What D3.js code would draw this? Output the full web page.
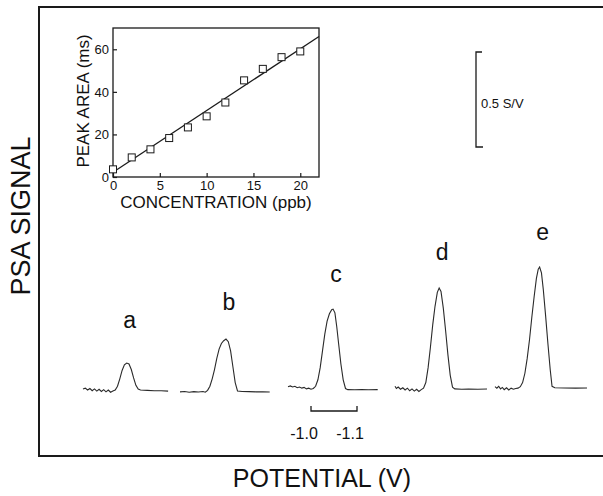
<!DOCTYPE html>
<html>
<head>
<meta charset="utf-8">
<script src="https://cdn.jsdelivr.net/npm/d3@7"></script>
<style>
	body { margin: 0; background: #fff; }
	svg { display: block; }
	text { font-family: "Liberation Sans", Arial, sans-serif; fill: #111; }
</style>
</head>
<body>
<div id="chart"></div>
<script>
// inset: peak area vs concentration
var concentration = [0, 2, 4, 6, 8, 10, 12, 14, 16, 18, 20]
var peakArea = [3.6, 9.2, 13, 18.3, 23.3, 28.5, 35, 45.4, 50.8, 56.3, 59]
var fitLine = [[0, 2.2], [22, 66]]
var insetXTicks = [0, 5, 10, 15, 20]
var insetYTicks = [0, 20, 40, 60]

// PSA traces: [potential (V), signal (S/V)]
var traceNames = ["a", "b", "c", "d", "e"]
var traceA = [[-0.950, 0.005], [-0.955, 0.010], [-0.960, 0.000], [-0.965, 0.008], [-0.970, -0.004], [-0.975, 0.006],
	[-0.980, -0.006], [-0.985, 0.004], [-0.990, -0.008], [-0.995, 0.002], [-1.000, -0.010], [-1.005, 0.000],
	[-1.010, -0.012], [-1.015, -0.006], [-1.020, 0.000], [-1.025, 0.020], [-1.030, 0.060], [-1.035, 0.105],
	[-1.040, 0.135], [-1.045, 0.145], [-1.050, 0.140], [-1.055, 0.110], [-1.060, 0.065], [-1.065, 0.025],
	[-1.070, 0.005], [-1.075, 0.000], [-1.090, -0.002], [-1.105, -0.004], [-1.120, -0.004], [-1.135, -0.006]]
var traceB = [[-0.950, -0.010], [-0.960, -0.008], [-0.970, -0.012], [-0.980, -0.009], [-0.990, -0.011], [-1.000, -0.008],
	[-1.005, -0.012], [-1.010, -0.002], [-1.015, 0.020], [-1.020, 0.060], [-1.025, 0.110], [-1.030, 0.170],
	[-1.035, 0.220], [-1.040, 0.250], [-1.045, 0.265], [-1.050, 0.274], [-1.055, 0.260], [-1.060, 0.210],
	[-1.065, 0.125], [-1.070, 0.040], [-1.075, -0.005], [-1.085, -0.008], [-1.100, -0.009], [-1.115, -0.010],
	[-1.130, -0.010], [-1.145, -0.011]]
var traceC = [[-0.950, 0.018], [-0.955, 0.022], [-0.960, 0.016], [-0.965, 0.020], [-0.970, 0.012], [-0.975, 0.016],
	[-0.980, 0.010], [-0.985, 0.014], [-0.990, 0.006], [-0.995, 0.010], [-1.000, 0.004], [-1.005, 0.008],
	[-1.010, 0.020], [-1.015, 0.055], [-1.020, 0.120], [-1.025, 0.210], [-1.030, 0.300], [-1.035, 0.370],
	[-1.040, 0.410], [-1.045, 0.432], [-1.048, 0.435], [-1.052, 0.415], [-1.056, 0.340], [-1.060, 0.250],
	[-1.065, 0.140], [-1.070, 0.055], [-1.075, 0.008], [-1.080, 0.002], [-1.095, 0.001], [-1.110, 0.002],
	[-1.125, 0.001], [-1.145, 0.002]]
var traceD = [[-0.950, 0.020], [-0.953, 0.008], [-0.957, 0.016], [-0.962, 0.004], [-0.967, 0.012], [-0.972, 0.000],
	[-0.977, 0.010], [-0.982, -0.004], [-0.987, 0.006], [-0.992, -0.006], [-0.997, 0.004], [-1.002, -0.008],
	[-1.007, 0.002], [-1.012, 0.010], [-1.017, 0.040], [-1.022, 0.120], [-1.027, 0.230], [-1.032, 0.350],
	[-1.037, 0.450], [-1.042, 0.525], [-1.046, 0.548], [-1.050, 0.530], [-1.055, 0.440], [-1.060, 0.320],
	[-1.065, 0.190], [-1.070, 0.080], [-1.075, 0.015], [-1.080, 0.006], [-1.095, 0.004], [-1.110, 0.005],
	[-1.130, 0.004], [-1.150, 0.005]]
var traceE = [[-0.950, 0.018], [-0.954, 0.010], [-0.958, 0.020], [-0.962, 0.006], [-0.966, 0.014], [-0.970, 0.002],
	[-0.975, 0.012], [-0.980, 0.000], [-0.985, 0.010], [-0.990, 0.004], [-0.995, 0.008], [-1.000, 0.010],
	[-1.005, 0.018], [-1.010, 0.040], [-1.015, 0.090], [-1.020, 0.170], [-1.025, 0.270], [-1.030, 0.390],
	[-1.035, 0.500], [-1.040, 0.600], [-1.044, 0.650], [-1.047, 0.661], [-1.051, 0.630], [-1.055, 0.540],
	[-1.060, 0.400], [-1.065, 0.250], [-1.070, 0.110], [-1.074, 0.020], [-1.080, 0.012], [-1.100, 0.011],
	[-1.125, 0.010], [-1.150, 0.011]]
var traces = [traceA, traceB, traceC, traceD, traceE]
var potentialBar = [-1.0, -1.1]
var signalBar = 0.5

;(() => run())()

function run() {
	var w = 603
	var h = 496
	var ink = "#1a1a1a"

	var svg = d3.select("#chart")
		.append("svg")
		.attr("width", w)
		.attr("height", h)

	// outer frame (right side runs off the page)
	svg.append("path")
		.attr("d", "M" + (w + 5) + ",7H39V456H" + (w + 5))
		.attr("fill", "none")
		.attr("stroke", ink)
		.attr("stroke-width", 2)

	svg.append("text")
		.attr("transform", "translate(30,216) rotate(-90)")
		.style("text-anchor", "middle")
		.style("font-size", "27px")
		.text("PSA SIGNAL")

	svg.append("text")
		.attr("x", 322)
		.attr("y", 487)
		.style("text-anchor", "middle")
		.style("font-size", "25px")
		.text("POTENTIAL (V)")

	// ---- inset ----
	var ix = d3.scaleLinear().domain([0, 22]).range([113, 319])
	var iy = d3.scaleLinear().domain([0, 70]).range([177, 28])

	var inset = svg.append("g")

	inset.append("rect")
		.attr("x", ix(0))
		.attr("y", iy(70))
		.attr("width", ix(22) - ix(0))
		.attr("height", iy(0) - iy(70))
		.attr("fill", "none")
		.attr("stroke", ink)
		.attr("stroke-width", 1.3)

	var xAxis = d3.axisBottom(ix).tickValues(insetXTicks).tickSizeInner(-4).tickSizeOuter(0).tickPadding(4)
	var yAxis = d3.axisLeft(iy).tickValues(insetYTicks).tickSizeInner(-4).tickSizeOuter(0).tickPadding(4)

	var gx = inset.append("g")
		.attr("transform", "translate(0," + iy(0) + ")")
		.call(xAxis)
	var gy = inset.append("g")
		.attr("transform", "translate(" + ix(0) + ",0)")
		.call(yAxis)

	;[gx, gy].forEach(g => {
		g.select(".domain").remove()
		g.selectAll("line").attr("stroke", ink).attr("stroke-width", 1.2)
		g.selectAll("text")
			.style("font-family", "\"Liberation Sans\", Arial, sans-serif")
			.style("font-size", "13px")
			.attr("fill", "#111")
	})

	inset.append("text")
		.attr("transform", "translate(89,101) rotate(-90)")
		.style("text-anchor", "middle")
		.style("font-size", "17px")
		.text("PEAK AREA (ms)")

	inset.append("text")
		.attr("x", 216)
		.attr("y", 208)
		.style("text-anchor", "middle")
		.style("font-size", "17px")
		.text("CONCENTRATION (ppb)")

	inset.append("line")
		.attr("x1", ix(fitLine[0][0]))
		.attr("y1", iy(fitLine[0][1]))
		.attr("x2", ix(fitLine[1][0]))
		.attr("y2", iy(fitLine[1][1]))
		.attr("stroke", ink)
		.attr("stroke-width", 1.3)

	inset.selectAll("rect.pt")
		.data(concentration)
		.enter()
		.append("rect")
		.attr("class", "pt")
		.attr("x", d => ix(d) - 3.5)
		.attr("y", (d, i) => iy(peakArea[i]) - 3.5)
		.attr("width", 7)
		.attr("height", 7)
		.attr("fill", "#fff")
		.attr("stroke", ink)
		.attr("stroke-width", 1)

	// ---- traces ----
	var sy = d3.scaleLinear().domain([0, 0.5]).range([390, 297])
	var traceLeft = [83, 180, 288, 395, 495]
	var labelY = [328, 310, 282, 260, 240]
	var traceX = traceLeft.map(l => d3.scaleLinear().domain([-0.95, -1.15]).range([l, l + 92]))

	traces.forEach((t, i) => {
		var line = d3.line()
			.x(d => traceX[i](d[0]))
			.y(d => sy(d[1]))
		svg.append("path")
			.attr("d", line(t))
			.attr("fill", "none")
			.attr("stroke", "#2a2a2a")
			.attr("stroke-width", 1.1)

		var peak = t.reduce((a, b) => b[1] > a[1] ? b : a)
		svg.append("text")
			.attr("x", traceX[i](peak[0]) + 3)
			.attr("y", labelY[i])
			.style("text-anchor", "middle")
			.style("font-size", "23px")
			.text(traceNames[i])
	})

	// potential scale bar under trace c
	var bx = traceX[2]
	svg.append("path")
		.attr("d", "M" + bx(potentialBar[0]) + ",406V411H" + bx(potentialBar[1]) + "V406")
		.attr("fill", "none")
		.attr("stroke", ink)
		.attr("stroke-width", 1.3)

	potentialBar.forEach(v => {
		svg.append("text")
			.attr("x", bx(v) - 7)
			.attr("y", 439)
			.style("text-anchor", "middle")
			.style("font-size", "16px")
			.text(v.toFixed(1))
	})

	// signal scale bar
	var sBar = d3.scaleLinear().domain([0, signalBar]).range([147, 52])
	svg.append("path")
		.attr("d", "M482," + sBar(signalBar) + "H476V" + sBar(0) + "H483")
		.attr("fill", "none")
		.attr("stroke", ink)
		.attr("stroke-width", 1.3)

	svg.append("text")
		.attr("x", 481)
		.attr("y", 108)
		.style("font-size", "13px")
		.text(signalBar + " S/V")
}
</script>
</body>
</html>
